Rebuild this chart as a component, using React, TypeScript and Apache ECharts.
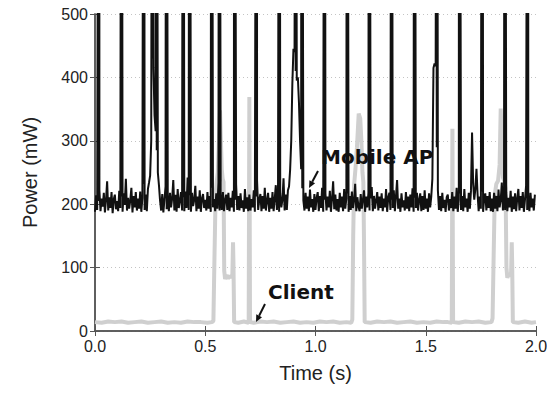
import React, { useEffect, useRef } from "react";
import * as echarts from "echarts";

// Mobile AP power (mW), sampled every 5 ms from 0.000 s (one row = 0.1 s)
const apSampleStep = 0.005;
const apPower: number[] = [
  188,214,191,205,222,189,209,196,218,187,207,236,190,211,194,219,186,208,215,192,
  205,189,221,194,212,188,217,199,240,190,210,193,206,226,187,213,195,219,190,209,
  193,220,188,210,232,191,215,189,224,234,245,300,430,415,340,315,285,250,230,206,
  190,216,187,207,228,192,213,189,218,195,209,238,190,215,188,224,194,206,219,190,
  211,189,220,194,242,191,214,188,218,197,207,229,189,212,193,222,188,209,216,194,
  207,190,219,193,213,188,226,195,208,189,217,193,234,190,212,191,219,189,207,215,
  191,218,189,210,195,221,188,207,231,191,213,190,217,194,206,188,224,193,211,189,
  215,190,208,195,222,188,212,237,191,207,216,189,213,193,226,190,206,218,188,210,
  193,219,189,208,230,191,213,188,217,195,207,241,190,215,191,222,228,255,300,390,
  445,440,410,395,400,360,300,255,225,206,190,218,193,212,189,223,195,208,188,216,
  191,210,219,189,213,194,226,188,207,217,190,212,195,221,188,209,236,192,215,190,
  208,188,218,195,212,189,224,193,209,217,188,213,191,220,194,206,232,189,211,196,
  189,216,193,207,222,188,212,195,218,190,209,227,189,213,193,206,219,190,212,194,
  217,189,209,195,224,188,211,218,191,207,194,222,189,213,238,193,209,188,217,195,
  206,190,219,193,212,189,215,195,225,188,210,194,218,190,207,217,189,213,191,222,
  193,209,188,217,195,212,240,415,422,418,290,222,191,213,189,218,194,207,188,211,
  215,190,208,194,219,189,212,193,226,188,207,217,191,213,189,224,195,209,188,218,
  193,221,313,232,207,224,256,216,189,212,193,220,188,209,217,190,213,194,219,189,
  209,188,218,193,213,189,223,195,207,234,190,214,191,219,189,210,195,221,188,212,
  192,217,189,209,224,190,213,194,219,188,207,229,191,212,189,218,195,209,190,215,
];

// Beacon spikes of the Mobile AP (s); they go far above the 500 mW top
const apSpikeTimes: number[] = [
  0.017, 0.120, 0.221, 0.260, 0.279, 0.324, 0.400, 0.429, 0.529, 0.564, 0.633,
  0.732, 0.836, 0.910, 0.938, 1.041, 1.144, 1.244, 1.345, 1.449, 1.550, 1.653,
  1.756, 1.859, 1.962,
];
const apSpikePeak = 900;
const apSpikeHalfWidth = 0.0025;

// Client power (mW)
const clientTime: number[] = [
  0, 0.03, 0.06, 0.09, 0.12, 0.15, 0.18, 0.21, 0.24, 0.27, 0.30, 0.33, 0.36, 0.39, 0.42, 0.45, 0.48, 0.51, 0.53,
  0.537, 0.542, 0.547, 0.552, 0.557, 0.562, 0.567, 0.571, 0.575, 0.579, 0.583, 0.586, 0.590, 0.597, 0.604, 0.611, 0.618, 0.623, 0.626, 0.628, 0.631,
  0.65, 0.675, 0.697, 0.700, 0.703, 0.72, 0.75, 0.78, 0.81, 0.84, 0.87, 0.90, 0.93, 0.96, 0.99, 1.02, 1.05, 1.08, 1.11, 1.14, 1.162,
  1.167, 1.171, 1.175, 1.181, 1.188, 1.196, 1.203, 1.208, 1.213, 1.217, 1.220, 1.223,
  1.25, 1.28, 1.31, 1.34, 1.37, 1.40, 1.43, 1.46, 1.49, 1.52, 1.55, 1.58, 1.60, 1.618, 1.621, 1.624, 1.65, 1.68, 1.71, 1.74, 1.77, 1.798,
  1.803, 1.808, 1.813, 1.820, 1.828, 1.835, 1.840, 1.845, 1.850, 1.857, 1.862, 1.866, 1.870, 1.876, 1.882, 1.887, 1.890, 1.892, 1.895,
  1.92, 1.95, 1.98, 2.0,
];
const clientPower: number[] = [
  14, 13, 15, 14, 15, 13, 14, 15, 13, 14, 15, 13, 14, 13, 15, 14, 14, 13, 14,
  16, 120, 215, 235, 250, 300, 348, 300, 255, 240, 235, 95, 82, 88, 83, 87, 84, 90, 140, 105, 14,
  13, 15, 13, 369, 14, 13, 15, 14, 15, 13, 14, 15, 13, 14, 13, 15, 14, 15, 13, 14, 13,
  18, 150, 230, 255, 290, 343, 335, 300, 250, 235, 140, 14,
  13, 15, 14, 15, 13, 14, 15, 13, 14, 13, 15, 14, 14, 13, 319, 14, 13, 15, 14, 15, 13, 14,
  20, 120, 215, 232, 237, 262, 351, 300, 242, 236, 225, 100, 84, 90, 86, 92, 140, 105, 14,
  13, 15, 13, 14,
];

const xTicks = { min: 0, max: 2, interval: 0.5 };
const yTicks = { min: 0, max: 500, interval: 100 };

const FONT = "'Liberation Sans', Arial, sans-serif";
const AXIS_COLOR = "#555";

function arrow(x1: number, y1: number, x2: number, y2: number) {
  const dx = x2 - x1;
  const dy = y2 - y1;
  const len = Math.hypot(dx, dy);
  const ux = dx / len;
  const uy = dy / len;
  const hl = 7;
  const hw = 3.2;
  const bx = x2 - ux * hl;
  const by = y2 - uy * hl;
  return [
    {
      type: "line",
      shape: { x1, y1, x2: bx, y2: by },
      style: { stroke: "#111", lineWidth: 2 },
    },
    {
      type: "polygon",
      shape: {
        points: [
          [x2, y2],
          [bx - uy * hw, by + ux * hw],
          [bx + uy * hw, by - ux * hw],
        ],
      },
      style: { fill: "#111" },
    },
  ];
}

export default function App() {
  const ref = useRef<HTMLDivElement>(null);

  useEffect(() => {
    if (!ref.current) return;
    const chart = echarts.init(ref.current, null, { renderer: "svg" });

    const apData: number[][] = apPower.map((v, i) => [+(i * apSampleStep).toFixed(3), v]);
    apSpikeTimes.forEach((t) => {
      apData.push([t - apSpikeHalfWidth, apSpikePeak]);
      apData.push([t + apSpikeHalfWidth, apSpikePeak]);
    });
    apData.sort((a, b) => a[0] - b[0]);

    const clientData = clientTime.map((t, i) => [t, clientPower[i]]);

    const axisLine = { show: true, lineStyle: { color: AXIS_COLOR, width: 1.5 } };
    const axisTick = { show: true, inside: true, length: 5, lineStyle: { color: AXIS_COLOR, width: 1 } };

    chart.setOption({
      animation: false,
      backgroundColor: "#fff",
      grid: { left: 95, right: 19, top: 14, bottom: 64, containLabel: false },
      xAxis: [
        {
          type: "value",
          position: "bottom",
          ...xTicks,
          axisLine,
          axisTick,
          splitLine: { show: false },
          axisLabel: {
            fontFamily: FONT,
            fontSize: 16,
            color: "#222",
            margin: 7,
            formatter: (v: number) => v.toFixed(1),
          },
          name: "Time (s)",
          nameLocation: "middle",
          nameGap: 32,
          nameTextStyle: { fontFamily: FONT, fontSize: 20, color: "#222" },
        },
        {
          type: "value",
          position: "top",
          ...xTicks,
          axisLine,
          axisTick,
          splitLine: { show: false },
          axisLabel: { show: false },
        },
      ],
      yAxis: [
        {
          type: "value",
          position: "left",
          ...yTicks,
          axisLine,
          axisTick,
          splitLine: { show: true, lineStyle: { color: "#c4c4c4", type: [1, 3], width: 1 } },
          axisLabel: { fontFamily: FONT, fontSize: 16, color: "#222", margin: 7 },
          name: "Power (mW)",
          nameLocation: "middle",
          nameGap: 55,
          nameRotate: 90,
          nameTextStyle: { fontFamily: FONT, fontSize: 20, color: "#222" },
        },
        {
          type: "value",
          position: "right",
          ...yTicks,
          axisLine,
          axisTick,
          splitLine: { show: false },
          axisLabel: { show: false },
        },
      ],
      series: [
        {
          name: "Client",
          type: "line",
          xAxisIndex: 0,
          yAxisIndex: 0,
          data: clientData,
          showSymbol: false,
          symbol: "none",
          clip: true,
          lineStyle: { color: "#cfcfcf", width: 4 },
          z: 2,
        },
        {
          name: "Mobile AP",
          type: "line",
          xAxisIndex: 0,
          yAxisIndex: 0,
          data: apData,
          showSymbol: false,
          symbol: "none",
          clip: true,
          lineStyle: { color: "#111", width: 2 },
          z: 3,
        },
      ],
      graphic: [
        {
          type: "text",
          x: 321,
          y: 157,
          style: {
            text: "Mobile AP",
            font: "bold 20px 'DejaVu Sans', sans-serif",
            fill: "#111",
            textVerticalAlign: "middle",
            verticalAlign: "middle",
          },
          z: 10,
        },
        ...arrow(318, 171, 309, 188).map((g) => ({ ...g, z: 10 })),
        {
          type: "text",
          x: 268,
          y: 292,
          style: {
            text: "Client",
            font: "bold 20px 'DejaVu Sans', sans-serif",
            fill: "#111",
            textVerticalAlign: "middle",
            verticalAlign: "middle",
          },
          z: 10,
        },
        ...arrow(265, 304, 256, 322).map((g) => ({ ...g, z: 10 })),
      ],
    });

    return () => chart.dispose();
  }, []);

  return <div ref={ref} style={{ width: 555, height: 395, margin: -8 }} />;
}
